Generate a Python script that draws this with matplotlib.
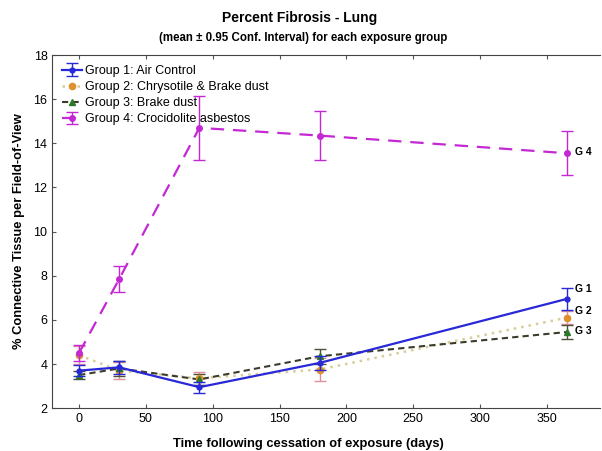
import matplotlib
matplotlib.use("Agg")
import matplotlib.pyplot as plt
from matplotlib.lines import Line2D

plt.rcParams['font.family'] = ['Liberation Sans', 'DejaVu Sans']

days = [0, 30, 90, 180, 365]

g1_mean = [3.7, 3.85, 2.95, 4.05, 6.95]
g1_ci = [0.25, 0.3, 0.25, 0.3, 0.5]

g2_mean = [4.4, 3.7, 3.35, 3.75, 6.1]
g2_ci = [0.4, 0.4, 0.3, 0.5, 0.3]

g3_mean = [3.5, 3.8, 3.3, 4.35, 5.45]
g3_ci = [0.2, 0.35, 0.25, 0.35, 0.3]

g4_mean = [4.5, 7.85, 14.7, 14.35, 13.55]
g4_ci = [0.35, 0.6, 1.45, 1.1, 1.0]

labels = ["Group 1: Air Control", "Group 2: Chrysotile & Brake dust",
          "Group 3: Brake dust", "Group 4: Crocidolite asbestos"]
end_labels = ["G 1", "G 2", "G 3", "G 4"]
end_label_y = [7.4, 6.4, 5.5, 13.6]

fig = plt.figure(figsize=(6.02, 4.51), dpi=100)
ax = fig.add_axes([0.087, 0.095, 0.91, 0.783])

# Group 1
ax.errorbar(days, g1_mean, yerr=g1_ci, color='#2828d8', ls='-', lw=1.6,
            marker='o', ms=3.5, capsize=4, elinewidth=1, label=labels[0], zorder=4)
# Group 2
ax.plot(days, g2_mean, color='#d8cc98', ls=(0, (1, 2)), lw=1.8, zorder=2)
ax.errorbar(days, g2_mean, yerr=g2_ci, color='#e0902c', ls='none',
            marker='o', ms=4.5, capsize=4, elinewidth=1, ecolor='#e0909c', zorder=3)
# Group 3
ax.plot(days, g3_mean, color='#3c3c2c', ls=(0, (3, 2)), lw=1.5, zorder=2)
ax.errorbar(days, g3_mean, yerr=g3_ci, color='#2a7a2a', ls='none',
            marker='^', ms=4, capsize=4, elinewidth=1, ecolor='#505038', zorder=3)
# Group 4
ax.errorbar(days, g4_mean, yerr=g4_ci, color='#c428d4', ls=(0, (6, 4)), lw=1.6,
            marker='o', ms=4, capsize=4, elinewidth=1, label=labels[3], zorder=4)

h, _ = ax.get_legend_handles_labels()
h2 = Line2D([], [], color='#d8cc98', ls=(0, (1, 2)), lw=1.8, marker='o',
            mfc='#e0902c', mec='#e0902c', ms=4.5)
h3 = Line2D([], [], color='#3c3c2c', ls=(0, (3, 2)), lw=1.5, marker='^',
            mfc='#2a7a2a', mec='#2a7a2a', ms=4)
ax.legend([h[0], h2, h3, h[1]], labels, loc='upper left', frameon=False,
          fontsize=9, handlelength=1.6, handletextpad=0.25, labelspacing=0.33,
          borderaxespad=0.5, borderpad=0.3)

for lab, yv in zip(end_labels, end_label_y):
    ax.text(days[-1] + 6, yv, lab, fontsize=7.5, fontweight='bold', va='center', ha='left')

ax.set_xlim(-20, 390)
ax.set_ylim(2, 18)
ax.set_xticks([0, 50, 100, 150, 200, 250, 300, 350])
ax.set_yticks([2, 4, 6, 8, 10, 12, 14, 16, 18])
ax.tick_params(direction='in', length=3, labelsize=9, top=True, right=False, color='#555555')
for s in ax.spines.values():
    s.set_color('#444444')
ax.spines['right'].set_visible(False)

ax.set_ylabel("% Connective Tissue per Field-of-View", fontsize=9.3,
              fontweight='bold', labelpad=6)

fig.text(0.513, 0.016, "Time following cessation of exposure (days)", ha='center',
         va='center', fontsize=9.3, fontweight='bold')
fig.text(0.497, 0.96, "Percent Fibrosis - Lung", ha='center', va='center',
         fontsize=10, fontweight='bold')
fig.text(0.503, 0.915, "(mean \u00b1 0.95 Conf. Interval) for each exposure group",
         ha='center', va='center', fontsize=8.3, fontweight='bold')

fig.savefig("out.png", dpi=100)
